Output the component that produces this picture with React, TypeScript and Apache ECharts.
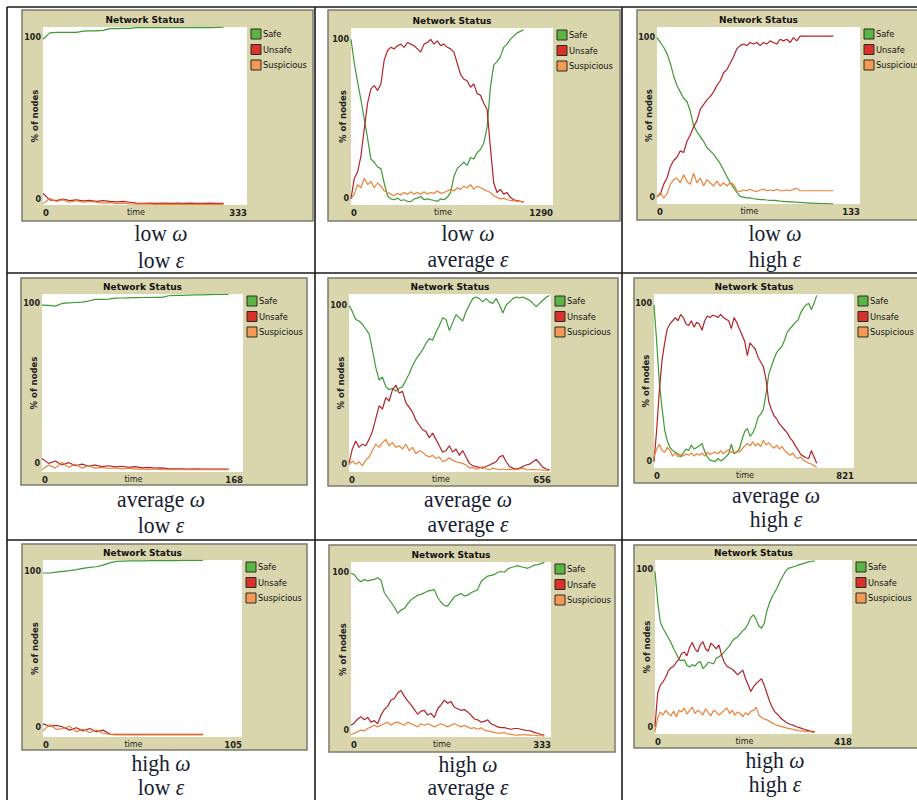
import React, { useEffect, useRef } from 'react';
import * as echarts from 'echarts';

// ---------- labels ----------
const SERIES_NAMES = ['Safe', 'Unsafe', 'Suspicious'];
const TITLE = 'Network Status';
const X_NAME = 'time';
const Y_NAME = '% of nodes';
const Y_TICKS = [0, 100];

// ---------- data (read from the picture; % of nodes, sampled at a constant time step) ----------
// low ω, low ε  (x max 333)
const lowW_lowE_safe = [99, 103, 103.3, 103.3, 103.3, 103.3, 104, 104.2, 104.2, 104.5, 105.6, 105.6, 105.8, 105.8, 106.2, 106.2, 106.2, 106.2, 106.2, 106.2, 106.2, 106.2, 106.2, 106.2, 106.2, 106.2, 106.4, 106.5];
const lowW_lowE_unsafe = [3.5, -0.5, -1, 0, -1, -0.5, -1.2, -0.8, -1.5, -1, -1.5, -1.8, -1.5, -2, -2.5, -2.7, -2.5, -2.7, -2.6, -2.7, -2.6, -2.7, -2.6, -2.7, -2.7, -2.6, -2.7, -2.7];
const lowW_lowE_susp = [-3, 0.5, -1.5, -0.5, -2, -1, -2, -1.5, -2, -2.5, -2.2, -2.8, -2.5, -3, -3.2, -3.2, -3.2, -3.3, -3.2, -3.3, -3.2, -3.3, -3.3, -3.3, -3.3, -3.3, -3.3, -3.3];

// low ω, average ε (x max 1290)
const lowW_avgE_safe = [100, 85, 73, 62, 50, 38, 25, 23, 20, 19, 10, 2, 0, -0.5, 0.5, -1, -0.5, -1.5, -1.7, 0, 0.5, 1.5, -0.5, 0, -0.5, -1, -1.5, 0, -0.5, 1, 4, 14, 19, 21, 23, 21, 26, 25, 29, 31, 35, 45, 70, 84, 86, 89, 95, 97, 100, 102, 104, 105, 106];
const lowW_avgE_unsafe = [0, 13, 17, 27, 44, 60, 69, 71, 68, 72, 87, 93, 95, 94, 96, 97, 95, 98, 97, 96, 94, 92, 97, 98, 100, 97, 99, 96, 97, 95, 94, 92, 85, 78, 75, 74, 70, 72, 66, 65, 60, 56, 32, 10, 4, 6, 3, 4, 1, -0.5, -1, -1.5, -2];
const lowW_avgE_susp = [0, 3, 9, 7, 13, 9, 11, 7, 10, 8, 5, 4, 3, 2, 3.5, 2.5, 4, 3, 4.5, 3, 4, 3, 4.5, 3, 4, 3.5, 5, 3.5, 4, 5, 6, 5, 7, 6, 8, 7, 9, 6, 8, 7, 6, 5, 4, 2, 1, 0, 0.5, -0.5, -1, -1, -1.5, -1.5, -2];

// low ω, high ε (x max 133)
const lowW_highE_safe = [100, 97, 94, 90, 84, 76, 70, 66, 62, 60, 54, 45, 41, 38, 35, 31, 29, 27, 24, 21, 17, 13, 9, 6, 3, 0.5, 0, -0.5, -0.5, -1, -1.2, -1.5, -1.5, -1.8, -2, -2, -2.2, -2.5, -2.6, -2.8, -3, -3, -3.2, -3.3, -3.5, -3.6, -3.7, -3.8, -3.9, -4, -4, -4.1, -4.2, -4.2];
const lowW_highE_unsafe = [0, 2, 8, 12, 19, 23, 25, 29, 28, 35, 39, 44, 48, 55, 58, 61, 63, 66, 70, 73, 78, 80, 84, 88, 93, 95, 96, 95, 97, 96, 97, 95, 97, 96, 98, 97, 96, 99, 98, 99, 97, 100, 98, 101, 101, 101, 101, 101, 101, 101, 101, 101, 101, 101];
const lowW_highE_susp = [0, 3, -0.5, 2, 8, 11, 12, 9, 14, 10, 8, 15, 9, 12, 7, 11, 9, 7, 10, 7, 9, 7, 9, 8, 4, 3.5, 4.5, 4, 5, 4, 3.5, 4.5, 5, 4, 4.5, 4, 5, 4, 4, 4.5, 4, 5, 5.5, 4, 4, 4, 4, 4, 4, 4, 4, 4, 4, 4];

// average ω, low ε (x max 168)
const avgW_lowE_safe = [99, 98.8, 98.3, 100, 100.3, 100.6, 100.8, 101.5, 102.5, 102.6, 102.7, 103.3, 103.4, 103.5, 103.6, 103.7, 103.7, 103.75, 103.8, 104.8, 105, 105.1, 105.2, 105.3, 105.4, 105.5, 105.6, 105.6, 105.7];
const avgW_lowE_unsafe = [3, 0, 1.5, -1, 0.5, -1.5, -0.5, -1.8, -1, -2, -1.5, -2.2, -1.8, -2.5, -2, -2.8, -2.5, -3, -2.8, -3.5, -3.5, -3.5, -3.6, -3.5, -3.6, -3.6, -3.6, -3.6, -3.6];
const avgW_lowE_susp = [-4, -1, -3, 0.5, -2.5, -0.5, -3, -1.5, -3, -2.5, -3.2, -2.8, -3.5, -3, -3.6, -3.4, -3.8, -3.5, -3.9, -4, -4, -4, -4, -4, -4, -4, -4, -4, -4];

// average ω, average ε (x max 656)
const avgW_avgE_safe = [99.5, 96, 91, 90, 88, 85, 82, 72, 61, 53, 55, 49, 47, 48, 46, 48, 49, 53, 57, 62, 66, 69, 72, 76, 79, 78, 83, 87, 92, 91, 84, 89, 94, 92, 90, 96, 100, 104, 105, 104, 102, 104, 102, 101, 104, 100, 95, 100, 102, 104, 105, 104.5, 105, 104, 103, 101, 99, 101, 103, 105, 106];
const avgW_avgE_unsafe = [1, 10, 15, 11, 13, 12, 16, 21, 29, 37, 35, 42, 40, 47, 50, 45, 46, 39, 36, 33, 28, 25, 22, 21, 17, 20, 16, 12, 8, 9, 12, 8, 10, 6, 9, 5, 1, -0.5, -1, -1.5, -2, -1, 0, 1, 2, 5, 6, 2, -1, -2, -2.5, -2, -1, 0, 0.5, 2, 3.5, 1, -1.5, -2.5, -3];
const avgW_avgE_susp = [0, 2.5, 0.5, 2, -0.5, 3, 5, 9, 13, 11, 14, 16, 12, 14, 11, 12, 10, 13, 9, 11, 7, 9, 8, 6, 5, 6, 4, 5, 2, 3, 4.5, 3, 2, 1.5, 1, 0, -2, -1.5, -2.7, -2, -1, -2.5, -3, -2, -2.5, -3, -2.5, -3, -2.7, -3, -3, -2.5, -2, -3, -3, -2.7, -3, -3, -3.2, -3.3, -3.5];

// average ω, high ε (x max 821)
const avgW_highE_safe = [99, 76, 50, 34, 20, 13, 9, 7, 6, 5, 3, 5.5, 8, 7, 10.5, 8, 9, 10, 11.5, 6.5, 3, 1, 0.5, 0, 2, 0.5, 1.5, 3, 5, 11, 5, 6, 8, 14, 19, 21, 16, 18, 22, 28, 30, 33, 43, 55, 60, 65, 69, 71, 73, 77, 82, 84, 86, 88, 89.5, 94, 97, 99, 100, 96, 100, 105];
const avgW_highE_unsafe = [0, 20, 45, 64, 75, 84, 87, 89, 91, 89, 93, 91, 87, 86, 89, 85, 88, 87, 83, 89, 92, 91, 92.5, 92, 91, 93, 91, 90, 89, 84, 91, 88, 84, 80, 76, 67, 75, 73, 71, 66, 63, 60, 52, 38, 33, 29, 27, 24, 22, 20, 18, 15, 13, 10, 7.5, 4.5, 3.5, 2.5, 2, 7, 3, -1];
const avgW_highE_susp = [3, 8, 11, 7, 6, 9, 7, 3.5, 5.5, 3, 4.5, 3.5, 5, 4, 5.5, 3.5, 5, 4, 5.5, 3.5, 6, 4.5, 5.5, 6, 5, 7, 5, 6.5, 7.5, 6, 5.5, 6.5, 6, 8, 10, 11.5, 10, 12.5, 10, 11.5, 9.5, 13.5, 10.5, 12, 10, 8.5, 10.5, 8, 9.5, 7, 5.5, 4, 5.5, 3, 2, 3, 1, 0, -1, -1.5, -2.5, -3.5];

// high ω, low ε (x max 105)
const highW_lowE_safe = [99, 99, 99.5, 100, 100.5, 101.2, 102, 102.6, 103, 104, 105.5, 106.4, 106.6, 106.8, 106.8, 106.8, 106.9, 106.9, 106.9, 106.9, 106.9, 107, 107, 107, 107];
const highW_lowE_unsafe = [2.5, 1, 1.5, 0.5, -1.5, 0, -2, -0.5, -2.5, -1.5, -4, -4.2, -4.2, -4.2, -4.2, -4.2, -4.2, -4.2, -4.2, -4.2, -4.2, -4.2, -4.2, -4.2, -4.2];
const highW_lowE_susp = [-2, 2, -1, -0.5, 1, -2.5, -1, -3, -1.5, -3.5, -4.3, -4.5, -4.5, -4.5, -4.5, -4.5, -4.5, -4.5, -4.5, -4.5, -4.5, -4.5, -4.5, -4.5, -4.5];

// high ω, average ε (x max 333)
const highW_avgE_safe = [99.4, 98.5, 95.5, 94, 95.5, 94.5, 95, 95.5, 96.5, 95, 87, 84, 81, 78, 74, 76, 77, 80, 82.5, 84, 85.5, 86, 87, 88, 88.5, 89, 84, 81, 79, 78.5, 81.5, 84.5, 85.5, 86.5, 85, 85.5, 87, 88, 89, 94, 96, 97.5, 98, 98.5, 100, 100.5, 100, 102, 103, 103.5, 104.2, 103.5, 103, 102.5, 103.5, 104.5, 104.8, 105.5, 106.3];
const highW_avgE_unsafe = [3, 4.5, 7, 8.5, 6.5, 8, 5, 6, 4, 9.5, 13, 15, 19, 20, 23.5, 25, 21.5, 18.5, 16, 13, 10, 12, 12.5, 9.5, 10.5, 8, 13.5, 16, 19, 17, 18, 14.5, 13.5, 12.5, 13, 11.5, 9.5, 7, 6.5, 5, 5.5, 6.5, 4, 3, 2, 1.5, 1.5, 1, 0.5, 1, 1, 0.5, 0, -0.3, -0.5, -1.5, -2, -2.8, -3.2];
const highW_avgE_susp = [-3, -2, -1, 0, -0.5, 1, 2, 3, 2, 3, 4, 5, 3, 4.5, 5, 4, 3, 5, 4, 3, 2, 4, 3, 4, 3, 2, 3, 4, 3, 2, 3, 4, 3, 2, 3, 2, 1, 1.5, 0.5, 1.5, 0, -0.5, -1, -1.5, -2, -2, -1.5, -2.5, -2.7, -3, -3.2, -3, -2.8, -3.2, -3.2, -3.3, -3.5, -3.6, -3.8];

// high ω, high ε (x max 418)
const highW_highE_safe = [99, 80, 67, 63, 60, 57, 54, 50, 47, 43, 42.5, 43, 39.5, 38.5, 40, 39, 41, 42, 37.5, 39, 41.5, 41, 40.5, 44, 45, 46, 48, 50, 52, 55, 56.5, 57.5, 59.5, 61.5, 63, 66, 70, 71.5, 68.5, 64.5, 63, 66, 74, 79, 83, 86, 89, 93, 96, 99, 101, 101.5, 102, 102.5, 103.2, 103.7, 104.2, 104.8, 105.3, 105.5, 105.7];
const highW_highE_unsafe = [0.5, 22, 27, 29, 32, 36, 38, 39, 41.5, 43.5, 47, 48, 45.5, 51, 54, 50, 48, 52.5, 54.5, 50, 48.5, 53.5, 52, 50, 52.5, 46, 41.5, 39, 38, 37, 35.5, 33.5, 35, 36.5, 31, 27, 23, 26, 28, 29.5, 31, 27, 22, 17, 13, 10, 8.5, 6.5, 5, 3.8, 2.7, 2, 1.5, 0.6, 0.2, -0.4, -1, -1.5, -2, -2.3, -2.5];
const highW_highE_susp = [-2.5, 6, 10, 8, 11, 9, 7.5, 10.5, 7, 11, 10, 12.5, 8.5, 11, 13, 9, 11, 10, 8, 12, 9.5, 7.5, 11, 10, 8, 9.5, 11, 12.5, 9, 11, 8, 10, 9, 7, 9.5, 8, 10.5, 11, 13, 8, 6.5, 5.5, 5, 4, 3, 2, 1.5, 1, 0.5, 0, -0.4, -0.8, -1.2, -1.5, -1.8, -2, -2.2, -2.4, -2.5, -2.8, -3];

// panel contents: row by row
const PANELS = [
  { omega: 'low', eps: 'low', xMax: 333, step: 10.92, values: [lowW_lowE_safe, lowW_lowE_unsafe, lowW_lowE_susp] },
  { omega: 'low', eps: 'average', xMax: 1290, step: 21.2, values: [lowW_avgE_safe, lowW_avgE_unsafe, lowW_avgE_susp] },
  { omega: 'low', eps: 'high', xMax: 133, step: 2.18, values: [lowW_highE_safe, lowW_highE_unsafe, lowW_highE_susp] },
  { omega: 'average', eps: 'low', xMax: 168, step: 5.57, values: [avgW_lowE_safe, avgW_lowE_unsafe, avgW_lowE_susp] },
  { omega: 'average', eps: 'average', xMax: 656, step: 10.86, values: [avgW_avgE_safe, avgW_avgE_unsafe, avgW_avgE_susp] },
  { omega: 'average', eps: 'high', xMax: 821, step: 10.95, values: [avgW_highE_safe, avgW_highE_unsafe, avgW_highE_susp] },
  { omega: 'high', eps: 'low', xMax: 105, step: 3.52, values: [highW_lowE_safe, highW_lowE_unsafe, highW_lowE_susp] },
  { omega: 'high', eps: 'average', xMax: 333, step: 5.55, values: [highW_avgE_safe, highW_avgE_unsafe, highW_avgE_susp] },
  { omega: 'high', eps: 'high', xMax: 418, step: 5.65, values: [highW_highE_safe, highW_highE_unsafe, highW_highE_susp] },
];

// ---------- layout (pixels) ----------
const LAYOUT = [
  { box: [22, 10, 313, 221], plot: [43, 27, 247, 205], yRange: [-3.7, 106.6], capX: 161, capBase: [241, 268] },
  { box: [328, 10, 620, 221], plot: [351, 28, 553, 205], yRange: [-3.8, 107.1], capX: 468, capBase: [241, 267] },
  { box: [637, 10, 922, 220], plot: [657, 27, 860, 204], yRange: [-4.3, 106.7], capX: 775, capBase: [241, 267] },
  { box: [21, 278, 307, 485], plot: [42, 294, 243, 472], yRange: [-5.4, 105.9], capX: 161, capBase: [507, 533] },
  { box: [328, 278, 618, 486], plot: [349, 294, 551, 472], yRange: [-4.4, 106.9], capX: 468, capBase: [507, 532] },
  { box: [634, 278, 922, 483], plot: [654, 294, 854, 468], yRange: [-4.0, 105.9], capX: 776, capBase: [503, 527] },
  { box: [22, 544, 307, 750], plot: [43, 560, 242, 737], yRange: [-5.9, 107.3], capX: 161, capBase: [771, 795] },
  { box: [329, 545, 615, 752], plot: [351, 562, 551, 737], yRange: [-4.4, 106.5], capX: 468, capBase: [772, 795] },
  { box: [634, 545, 922, 748], plot: [655, 560, 852, 734], yRange: [-4.0, 106.3], capX: 775, capBase: [768, 792] },
];
const TABLE_H = [7, 273, 540];
const TABLE_V = [7, 315, 622];

// ---------- styles ----------
const LINE_COLORS = ['#3e9a34', '#b3232a', '#ea8238'];
const LEGEND_COLORS = ['#5ab543', '#d8322b', '#f59a55'];
const BOX_FILL = '#d9d6ad';
const BOX_STROKE = '#7b7b6e';
const SANS = 'DejaVu Sans';
const SERIF = 'Liberation Serif';
const CAP_COLOR = '#161b30';

function buildOption() {
  const grid: any[] = [];
  const xAxis: any[] = [];
  const yAxis: any[] = [];
  const series: any[] = [];
  const elements: any[] = [];

  LAYOUT.forEach((L, i) => {
    const P = PANELS[i];
    const [px0, py0, px1, py1] = L.plot;
    const [bx0, by0, bx1, by1] = L.box;

    grid.push({
      left: px0, top: py0, width: px1 - px0, height: py1 - py0,
      show: true, backgroundColor: '#ffffff', borderWidth: 0, z: 1,
      containLabel: false, outerBoundsMode: 'none',
    });
    xAxis.push({
      type: 'value', gridIndex: i, min: 0, max: P.xMax, z: 5,
      axisLine: { show: false }, axisTick: { show: false }, splitLine: { show: false },
      axisLabel: {
        customValues: [0, P.xMax], fontSize: 8.5, fontWeight: 'bold', color: '#222',
        fontFamily: SANS, margin: 3, alignMinLabel: 'left', alignMaxLabel: 'right',
        formatter: (v: number) => String(v),
      },
      name: X_NAME, nameLocation: 'middle', nameGap: 3, nameMoveOverlap: false,
      nameTextStyle: { fontSize: 8, color: '#222', fontFamily: SANS, padding: [0, 18, 0, 0] },
    });
    yAxis.push({
      type: 'value', gridIndex: i, min: L.yRange[0], max: L.yRange[1], z: 5,
      axisLine: { show: false }, axisTick: { show: false }, splitLine: { show: false },
      axisLabel: {
        customValues: Y_TICKS, fontSize: 8, fontWeight: 'bold', color: '#222', fontFamily: SANS, margin: 2,
        formatter: (v: number) => String(v),
      },
      name: Y_NAME, nameLocation: 'middle', nameGap: 4, nameRotate: 90, nameMoveOverlap: false,
      nameTextStyle: { fontSize: 8.5, fontWeight: 'bold', color: '#222', fontFamily: SANS },
    });
    P.values.forEach((vals, k) => {
      series.push({
        type: 'line', name: SERIES_NAMES[k], xAxisIndex: i, yAxisIndex: i,
        data: vals.map((v, j) => [j * P.step, v]),
        showSymbol: false, symbol: 'none', silent: true, z: 3,
        lineStyle: { width: 1.2, color: LINE_COLORS[k] }, itemStyle: { color: LINE_COLORS[k] },
      });
    });

    elements.push({
      type: 'rect', z: 0, silent: true,
      shape: { x: bx0, y: by0, width: bx1 - bx0, height: by1 - by0 },
      style: { fill: BOX_FILL, stroke: BOX_STROKE, lineWidth: 1.5 },
    });
    elements.push({
      type: 'text', z: 2, silent: true, x: (px0 + px1) / 2, y: py0 - 7,
      style: { text: TITLE, fontFamily: SANS, fontSize: 9, fontWeight: 'bold', fill: '#111', align: 'center', verticalAlign: 'middle', textAlign: 'center', textVerticalAlign: 'middle' },
    });
    SERIES_NAMES.forEach((n, k) => {
      const cy = py0 + 7 + 15.5 * k;
      elements.push({
        type: 'rect', z: 2, silent: true,
        shape: { x: px1 + 4, y: cy - 5, width: 10, height: 10 },
        style: { fill: LEGEND_COLORS[k], stroke: '#2a2a2a', lineWidth: 1 },
      });
      elements.push({
        type: 'text', z: 2, silent: true, x: px1 + 16, y: cy,
        style: { text: n, fontFamily: SANS, fontSize: 8.3, fill: '#111', align: 'left', verticalAlign: 'middle', textAlign: 'left', textVerticalAlign: 'middle' },
      });
    });
    const lines = [[P.omega, 'ω'], [P.eps, 'ε']];
    lines.forEach(([word, greek], r) => {
      elements.push({
        type: 'text', z: 2, silent: true, x: L.capX, y: L.capBase[r] - 8, scaleX: 0.9,
        style: {
          text: `{n|${word} }{g|${greek}}`,
          fontFamily: SERIF, fontSize: 24, fill: CAP_COLOR,
          align: 'center', verticalAlign: 'middle', textAlign: 'center', textVerticalAlign: 'middle',
          rich: {
            n: { fontFamily: SERIF, fontSize: 24, fill: CAP_COLOR, color: CAP_COLOR },
            g: { fontFamily: SERIF, fontSize: 24, fontStyle: 'italic', fill: CAP_COLOR, color: CAP_COLOR },
          },
        },
      });
    });
  });

  TABLE_H.forEach((y) => {
    elements.push({ type: 'line', z: 4, silent: true, shape: { x1: TABLE_V[0], y1: y, x2: 917, y2: y }, style: { stroke: '#1a1a1a', lineWidth: 1.6 } });
  });
  TABLE_V.forEach((x) => {
    elements.push({ type: 'line', z: 4, silent: true, shape: { x1: x, y1: TABLE_H[0], x2: x, y2: 800 }, style: { stroke: '#1a1a1a', lineWidth: 1.6 } });
  });

  return {
    animation: false,
    backgroundColor: '#ffffff',
    textStyle: { fontFamily: SANS },
    grid, xAxis, yAxis, series,
    graphic: { elements },
  };
}

export default function App() {
  const ref = useRef<HTMLDivElement>(null);
  useEffect(() => {
    if (!ref.current) return;
    const chart = echarts.init(ref.current, undefined, { renderer: 'svg' });
    chart.setOption(buildOption() as any);
    return () => chart.dispose();
  }, []);
  return (
    <div
      ref={ref}
      style={{ position: 'absolute', left: 0, top: 0, width: 917, height: 800, background: '#fff' }}
    />
  );
}
